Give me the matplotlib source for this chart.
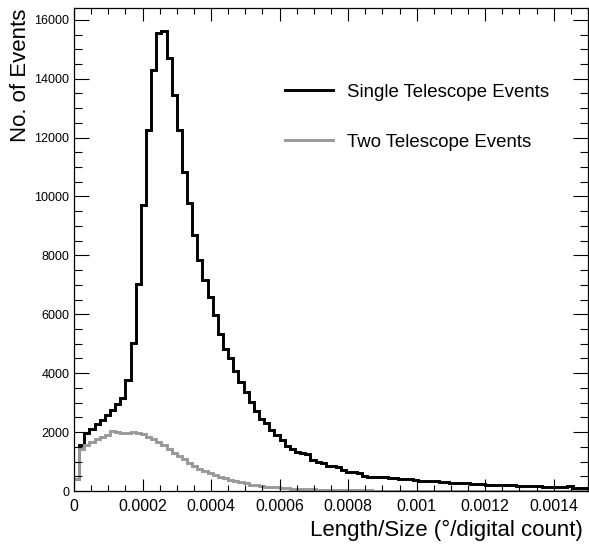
import matplotlib

matplotlib.use("Agg")
import matplotlib.pyplot as plt
import numpy as np
from matplotlib.ticker import FixedLocator, MultipleLocator

plt.rcParams["font.family"] = ["Liberation Sans", "DejaVu Sans"]

# 100 bins from 0 to 0.0015 (degree per digital count)
X_MIN, X_MAX, N_BINS = 0.0, 0.0015, 100

SINGLE_COUNTS = [
    420, 1560, 1960, 2100, 2260, 2410, 2580, 2750, 2960, 3150,
    3780, 5020, 7030, 9700, 12270, 14310, 15540, 15620, 14690, 13460,
    12270, 10830, 9780, 8700, 7850, 7170, 6600, 5960, 5340, 4830,
    4510, 4085, 3690, 3360, 3010, 2700, 2437, 2323, 2074, 1904,
    1734, 1530, 1417, 1315, 1300, 1270, 1060, 997, 940, 860,
    850, 805, 714, 660, 650, 600, 525, 490, 485, 465,
    460, 450, 440, 420, 400, 410, 380, 350, 340, 330,
    345, 300, 290, 275, 280, 260, 270, 250, 240, 245,
    220, 215, 205, 210, 195, 190, 180, 185, 170, 175,
    160, 150, 140, 135, 130, 125, 160, 110, 105, 100,
]

TWO_COUNTS = [
    400, 1420, 1570, 1680, 1780, 1830, 1900, 2040, 1990, 1970,
    1960, 1990, 1980, 1920, 1850, 1780, 1680, 1560, 1430, 1300,
    1180, 1070, 960, 850, 750, 670, 600, 530, 470, 430,
    370, 340, 290, 260, 215, 195, 170, 150, 135, 120,
    105, 95, 85, 75, 68, 60, 55, 50, 45, 40,
    36, 33, 30, 27, 25, 22, 20, 18, 17, 15,
    14, 13, 12, 11, 10, 10, 9, 9, 8, 8,
    7, 7, 6, 6, 6, 5, 5, 5, 5, 4,
    4, 4, 4, 4, 3, 3, 3, 3, 3, 3,
    3, 2, 2, 2, 2, 2, 2, 2, 2, 2,
]

X_TICKS = [0, 0.0002, 0.0004, 0.0006, 0.0008, 0.001, 0.0012, 0.0014]
X_TICK_LABELS = ["0", "0.0002", "0.0004", "0.0006", "0.0008", "0.001", "0.0012", "0.0014"]
Y_TICKS = [0, 2000, 4000, 6000, 8000, 10000, 12000, 14000, 16000]

LABELS = ["Single Telescope Events", "Two Telescope Events"]
COLORS = ["#000000", "#999999"]


def main() -> None:
    fig = plt.figure(figsize=(5.89, 5.48), dpi=100)
    ax = fig.add_axes((0.1256, 0.104, 0.8727, 0.8814))

    edges = np.linspace(X_MIN, X_MAX, N_BINS + 1)
    for counts, label, color in zip([SINGLE_COUNTS, TWO_COUNTS], LABELS, COLORS):
        ax.stairs(counts, edges, color=color, linewidth=2.1, label=label, baseline=None)

    ax.set_xlim(X_MIN, X_MAX)
    ax.set_ylim(0, 16400)

    ax.xaxis.set_major_locator(FixedLocator(X_TICKS))
    ax.set_xticklabels(X_TICK_LABELS)
    ax.xaxis.set_minor_locator(MultipleLocator(0.00005))
    ax.yaxis.set_major_locator(FixedLocator(Y_TICKS))
    ax.yaxis.set_minor_locator(MultipleLocator(500))

    ax.tick_params(axis="both", which="both", direction="in", top=True, right=True, width=0.8)
    ax.tick_params(axis="x", which="major", length=9, pad=5.5, labelsize=11.5)
    ax.tick_params(axis="x", which="minor", length=4)
    ax.tick_params(axis="y", which="major", length=10.5, pad=3.2, labelsize=9)
    ax.tick_params(axis="y", which="minor", length=5.5)
    for spine in ax.spines.values():
        spine.set_linewidth(0.9)

    ax.set_xlabel("Length/Size (°/digital count)", fontsize=16, ha="right")
    ax.xaxis.set_label_coords(0.99, -0.060)
    ax.set_ylabel("No. of Events", fontsize=16, loc="top")
    ax.yaxis.set_label_coords(-0.0837, 0.998)

    ax.legend(
        loc="upper left",
        bbox_to_anchor=(0.4105, 0.843),
        frameon=False,
        fontsize=13.4,
        handlelength=2.58,
        handletextpad=0.75,
        labelspacing=1.76,
        borderpad=0,
        borderaxespad=0,
    )

    fig.savefig("out.png", dpi=100, facecolor="white")
    plt.close(fig)


if __name__ == "__main__":
    main()
